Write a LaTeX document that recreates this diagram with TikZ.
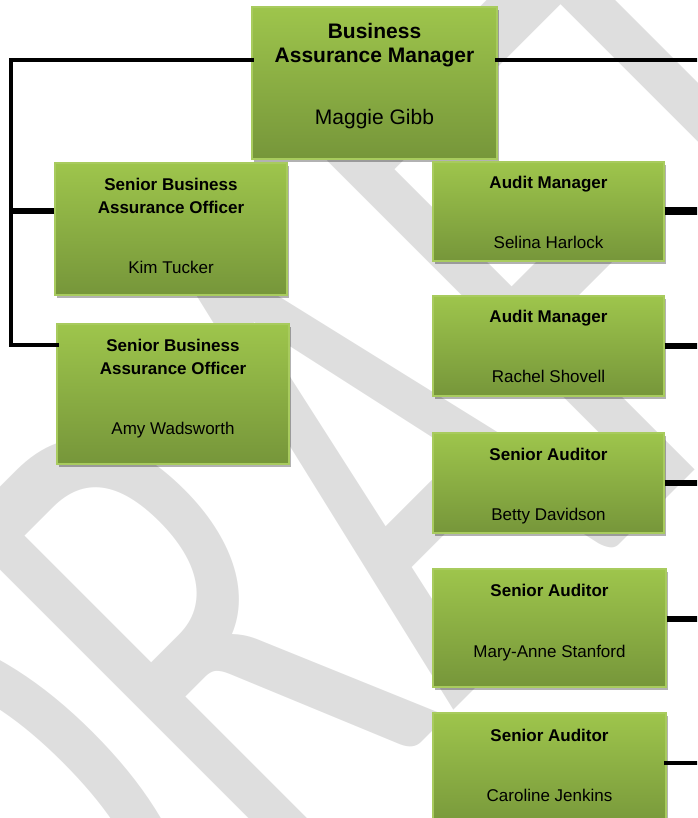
\documentclass[tikz,border=0pt]{standalone}
\usepackage{fontspec}
\setmainfont{Liberation Sans}
\newfontfamily\wmfont{Carlito}
\usetikzlibrary{shadows}

\definecolor{boxtop}{HTML}{9EC54C}
\definecolor{boxbot}{HTML}{76963A}
\definecolor{boxedge}{HTML}{A8CB5E}
\definecolor{wmgray}{HTML}{DEDEDE}

\tikzset{
  orgbox/.style={rectangle, draw=boxedge, line width=1.2pt, top color=boxtop, bottom color=boxbot,
    align=center, inner sep=0pt, text=black,
    drop shadow={shadow xshift=2pt, shadow yshift=-3pt, opacity=0.3, fill=black}},
  bigbox/.style={orgbox, font=\fontsize{21}{24}\selectfont},
  smallbox/.style={orgbox, font=\fontsize{17}{23}\selectfont},
  link/.style={line width=4.5pt, line cap=rect},
  linkmid/.style={line width=6.5pt},
  linkthick/.style={line width=8pt},
  watermark/.style={text=wmgray, inner sep=0pt, transform shape, font=\wmfont\fontsize{466}{466}\selectfont}
}

\begin{document}
\begin{tikzpicture}[x=1pt,y=-1pt]
  \useasboundingbox (0,0) rectangle (697,818);
  \clip (0,0) rectangle (697,818);

  %%%%% watermark
  \begin{scope}[shift={(343.9,482.1)}]
    \node[watermark, rotate=45, yscale=1.6] (draft) at (0,0) {DRAFT};
  \end{scope}

  %%%%% boxes
  \node[bigbox, minimum width=245pt, minimum height=152pt] (gibb) at (374.5,83)
    {\textbf{Business}\\\textbf{Assurance Manager}\\[38pt]Maggie Gibb\rule[-18pt]{0pt}{18pt}};

  \node[smallbox, minimum width=232pt, minimum height=132pt] (tucker) at (171,229)
    {\textbf{Senior Business}\\\textbf{Assurance Officer}\\[37pt]Kim Tucker\rule[-7pt]{0pt}{7pt}};
  \node[smallbox, minimum width=232pt, minimum height=140pt] (wadsworth) at (173,394)
    {\textbf{Senior Business}\\\textbf{Assurance Officer}\\[37pt]Amy Wadsworth\rule[-14pt]{0pt}{14pt}};

  \node[smallbox, minimum width=231pt, minimum height=99pt] (harlock) at (548.5,211.5)
    {\rule{0pt}{15pt}\textbf{Audit Manager}\\[37pt]Selina Harlock};
  \node[smallbox, minimum width=231pt, minimum height=100pt] (shovell) at (548.5,346)
    {\rule{0pt}{14pt}\textbf{Audit Manager}\\[37pt]Rachel Shovell};
  \node[smallbox, minimum width=231pt, minimum height=100pt] (davidson) at (548.5,483)
    {\rule{0pt}{19pt}\textbf{Senior Auditor}\\[37pt]Betty Davidson};
  \node[smallbox, minimum width=233pt, minimum height=118pt] (stanford) at (549.5,628)
    {\textbf{Senior Auditor}\\[38pt]Mary-Anne Stanford\rule[-15pt]{0pt}{15pt}};
  \node[smallbox, minimum width=233pt, minimum height=118pt] (jenkins) at (549.5,772)
    {\textbf{Senior Auditor}\\[37pt]Caroline Jenkins\rule[-14pt]{0pt}{14pt}};

  %%%%% connectors
  \coordinate (spine) at (11,60);
  \coordinate (edge) at (705,0);

  \draw[link] ([yshift=23pt]gibb.west) -- (spine) |- ([yshift=49pt]wadsworth.west);
  \draw[linkmid] ([yshift=18pt]tucker.west) -- ([yshift=18pt]tucker.west -| spine);
  \draw[link] ([yshift=23pt]gibb.east) -- ([yshift=23pt]gibb.east -| edge);

  \draw[linkthick] (harlock.east) -- (harlock.east -| edge);
  \foreach \n in {shovell,davidson}
    \draw[linkmid] (\n.east) -- (\n.east -| edge);
  \draw[linkmid] ([yshift=9pt]stanford.east) -- ([yshift=9pt]stanford.east -| edge);
  \draw[link] ([yshift=9pt]jenkins.east) -- ([yshift=9pt]jenkins.east -| edge);
\end{tikzpicture}
\end{document}
